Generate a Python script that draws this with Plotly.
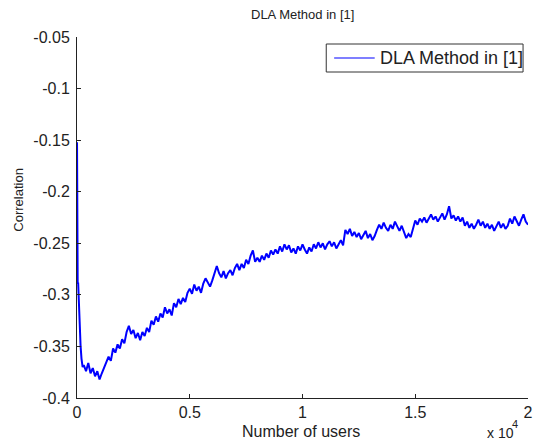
import plotly.graph_objects as go

# ---- data ----
head_users = [1, 10, 20, 30, 50, 80, 120, 160, 200, 250]
head_corr = [-0.152, -0.24, -0.232, -0.29, -0.288, -0.31, -0.335, -0.35, -0.362, -0.37]

body_users = list(range(300, 20001, 100))
body_corr = [
    -0.368, -0.374, -0.366, -0.376, -0.371, -0.379, -0.374, -0.382, -0.376, -0.371,
    -0.366, -0.360, -0.364, -0.352, -0.356, -0.348, -0.352, -0.343, -0.347, -0.336,
    -0.330, -0.338, -0.334, -0.342, -0.337, -0.344, -0.336, -0.340, -0.332, -0.336,
    -0.325, -0.329, -0.321, -0.326, -0.318, -0.322, -0.312, -0.318, -0.314, -0.320,
    -0.308, -0.312, -0.304, -0.309, -0.303, -0.307, -0.298, -0.294, -0.299, -0.290,
    -0.296, -0.292, -0.298, -0.289, -0.284, -0.288, -0.292, -0.286, -0.278, -0.272,
    -0.279, -0.283, -0.277, -0.284, -0.279, -0.276, -0.281, -0.274, -0.270, -0.276,
    -0.270, -0.274, -0.266, -0.270, -0.262, -0.257, -0.268, -0.264, -0.268, -0.262,
    -0.266, -0.260, -0.264, -0.257, -0.261, -0.256, -0.260, -0.253, -0.258, -0.251,
    -0.256, -0.252, -0.259, -0.255, -0.260, -0.253, -0.257, -0.251, -0.256, -0.260,
    -0.254, -0.258, -0.251, -0.255, -0.249, -0.254, -0.250, -0.256, -0.251, -0.248,
    -0.253, -0.249, -0.255, -0.251, -0.247, -0.252, -0.237, -0.241, -0.236, -0.243,
    -0.239, -0.244, -0.240, -0.246, -0.242, -0.238, -0.245, -0.241, -0.247, -0.243,
    -0.237, -0.232, -0.236, -0.230, -0.235, -0.238, -0.232, -0.236, -0.229, -0.234,
    -0.238, -0.233, -0.240, -0.245, -0.241, -0.244, -0.236, -0.228, -0.232, -0.226,
    -0.229, -0.225, -0.230, -0.226, -0.222, -0.227, -0.224, -0.229, -0.225, -0.221,
    -0.227, -0.222, -0.214, -0.226, -0.223, -0.228, -0.224, -0.229, -0.225, -0.233,
    -0.229, -0.235, -0.231, -0.236, -0.232, -0.227, -0.233, -0.229, -0.235, -0.231,
    -0.236, -0.232, -0.238, -0.233, -0.229, -0.235, -0.231, -0.236, -0.233, -0.226,
    -0.231, -0.224, -0.229, -0.233, -0.227, -0.222, -0.229, -0.232,
]

users = head_users + body_users
corr = head_corr + body_corr

x_tickvals = [0, 5000, 10000, 15000, 20000]
x_ticktext = ["0", "0.5", "1", "1.5", "2"]
y_tickvals = [-0.4, -0.35, -0.3, -0.25, -0.2, -0.15, -0.1, -0.05]
y_ticktext = ["-0.4", "-0.35", "-0.3", "-0.25", "-0.2", "-0.15", "-0.1", "-0.05"]

series_name = "DLA Method in [1]"
title_text = "DLA Method in [1]"
x_label = "Number of users"
y_label = "Correlation"
x_scale_base = "x 10"
x_scale_exp = "4"

FONT = "Liberation Sans, Arial, sans-serif"
TXT = "#222222"
BLUE = "#0000ff"

fig = go.Figure()
fig.add_trace(go.Scatter(
    x=users, y=corr, mode="lines", name=series_name, showlegend=False,
    line=dict(color=BLUE, width=2),
))

axis_common = dict(
    showgrid=False, zeroline=False, showline=True, linecolor="#222222", linewidth=1,
    ticks="inside", ticklen=4, tickcolor="#222222", mirror=False,
    tickfont=dict(family=FONT, size=16, color=TXT),
)

fig.update_layout(
    width=539, height=444,
    margin=dict(l=77, r=6, t=37, b=46),
    paper_bgcolor="white", plot_bgcolor="white",
    font=dict(family=FONT, color=TXT),
    showlegend=False,
    xaxis=dict(range=[0, 20000], tickvals=x_tickvals, ticktext=x_ticktext, **axis_common),
    yaxis=dict(range=[-0.4, -0.05], tickvals=y_tickvals, ticktext=y_ticktext,
               ticklabelstandoff=3, **axis_common),
)

# helpers: pixel position -> paper fraction
def px_x(p):
    return (p - 77) / 456.0

def px_y(p):
    return (398 - p) / 361.0

# legend box (drawn to match the reference's compact MATLAB legend)
fig.add_shape(type="rect", xref="paper", yref="paper",
              x0=px_x(329), x1=px_x(528), y0=px_y(72), y1=px_y(44),
              line=dict(color="#333333", width=1), fillcolor="white", layer="above")
fig.add_shape(type="line", xref="paper", yref="paper",
              x0=px_x(337), x1=px_x(378), y0=px_y(58), y1=px_y(58),
              line=dict(color=BLUE, width=1.2), layer="above")
fig.add_annotation(text=series_name, xref="paper", yref="paper", x=px_x(381), y=px_y(58),
                   xanchor="left", yanchor="middle", showarrow=False,
                   font=dict(family=FONT, size=18, color=TXT))

fig.add_annotation(text=title_text, xref="paper", yref="paper", x=0.5, y=px_y(15),
                   xanchor="center", yanchor="middle", showarrow=False,
                   font=dict(family=FONT, size=13, color=TXT))
fig.add_annotation(text=x_label, xref="paper", yref="paper", x=px_x(303), y=px_y(431),
                   xanchor="center", yanchor="middle", showarrow=False,
                   font=dict(family=FONT, size=16, color=TXT))
fig.add_annotation(text=y_label, xref="paper", yref="paper", x=px_x(17), y=px_y(200),
                   xanchor="center", yanchor="middle", showarrow=False, textangle=-90,
                   font=dict(family=FONT, size=13, color=TXT))
fig.add_annotation(text=x_scale_base, xref="paper", yref="paper", x=px_x(521), y=px_y(443),
                   xanchor="right", yanchor="bottom", showarrow=False,
                   font=dict(family=FONT, size=14, color=TXT))
fig.add_annotation(text=x_scale_exp, xref="paper", yref="paper", x=px_x(515), y=px_y(424),
                   xanchor="left", yanchor="middle", showarrow=False,
                   font=dict(family=FONT, size=11, color=TXT))

fig.write_html("out.html")
